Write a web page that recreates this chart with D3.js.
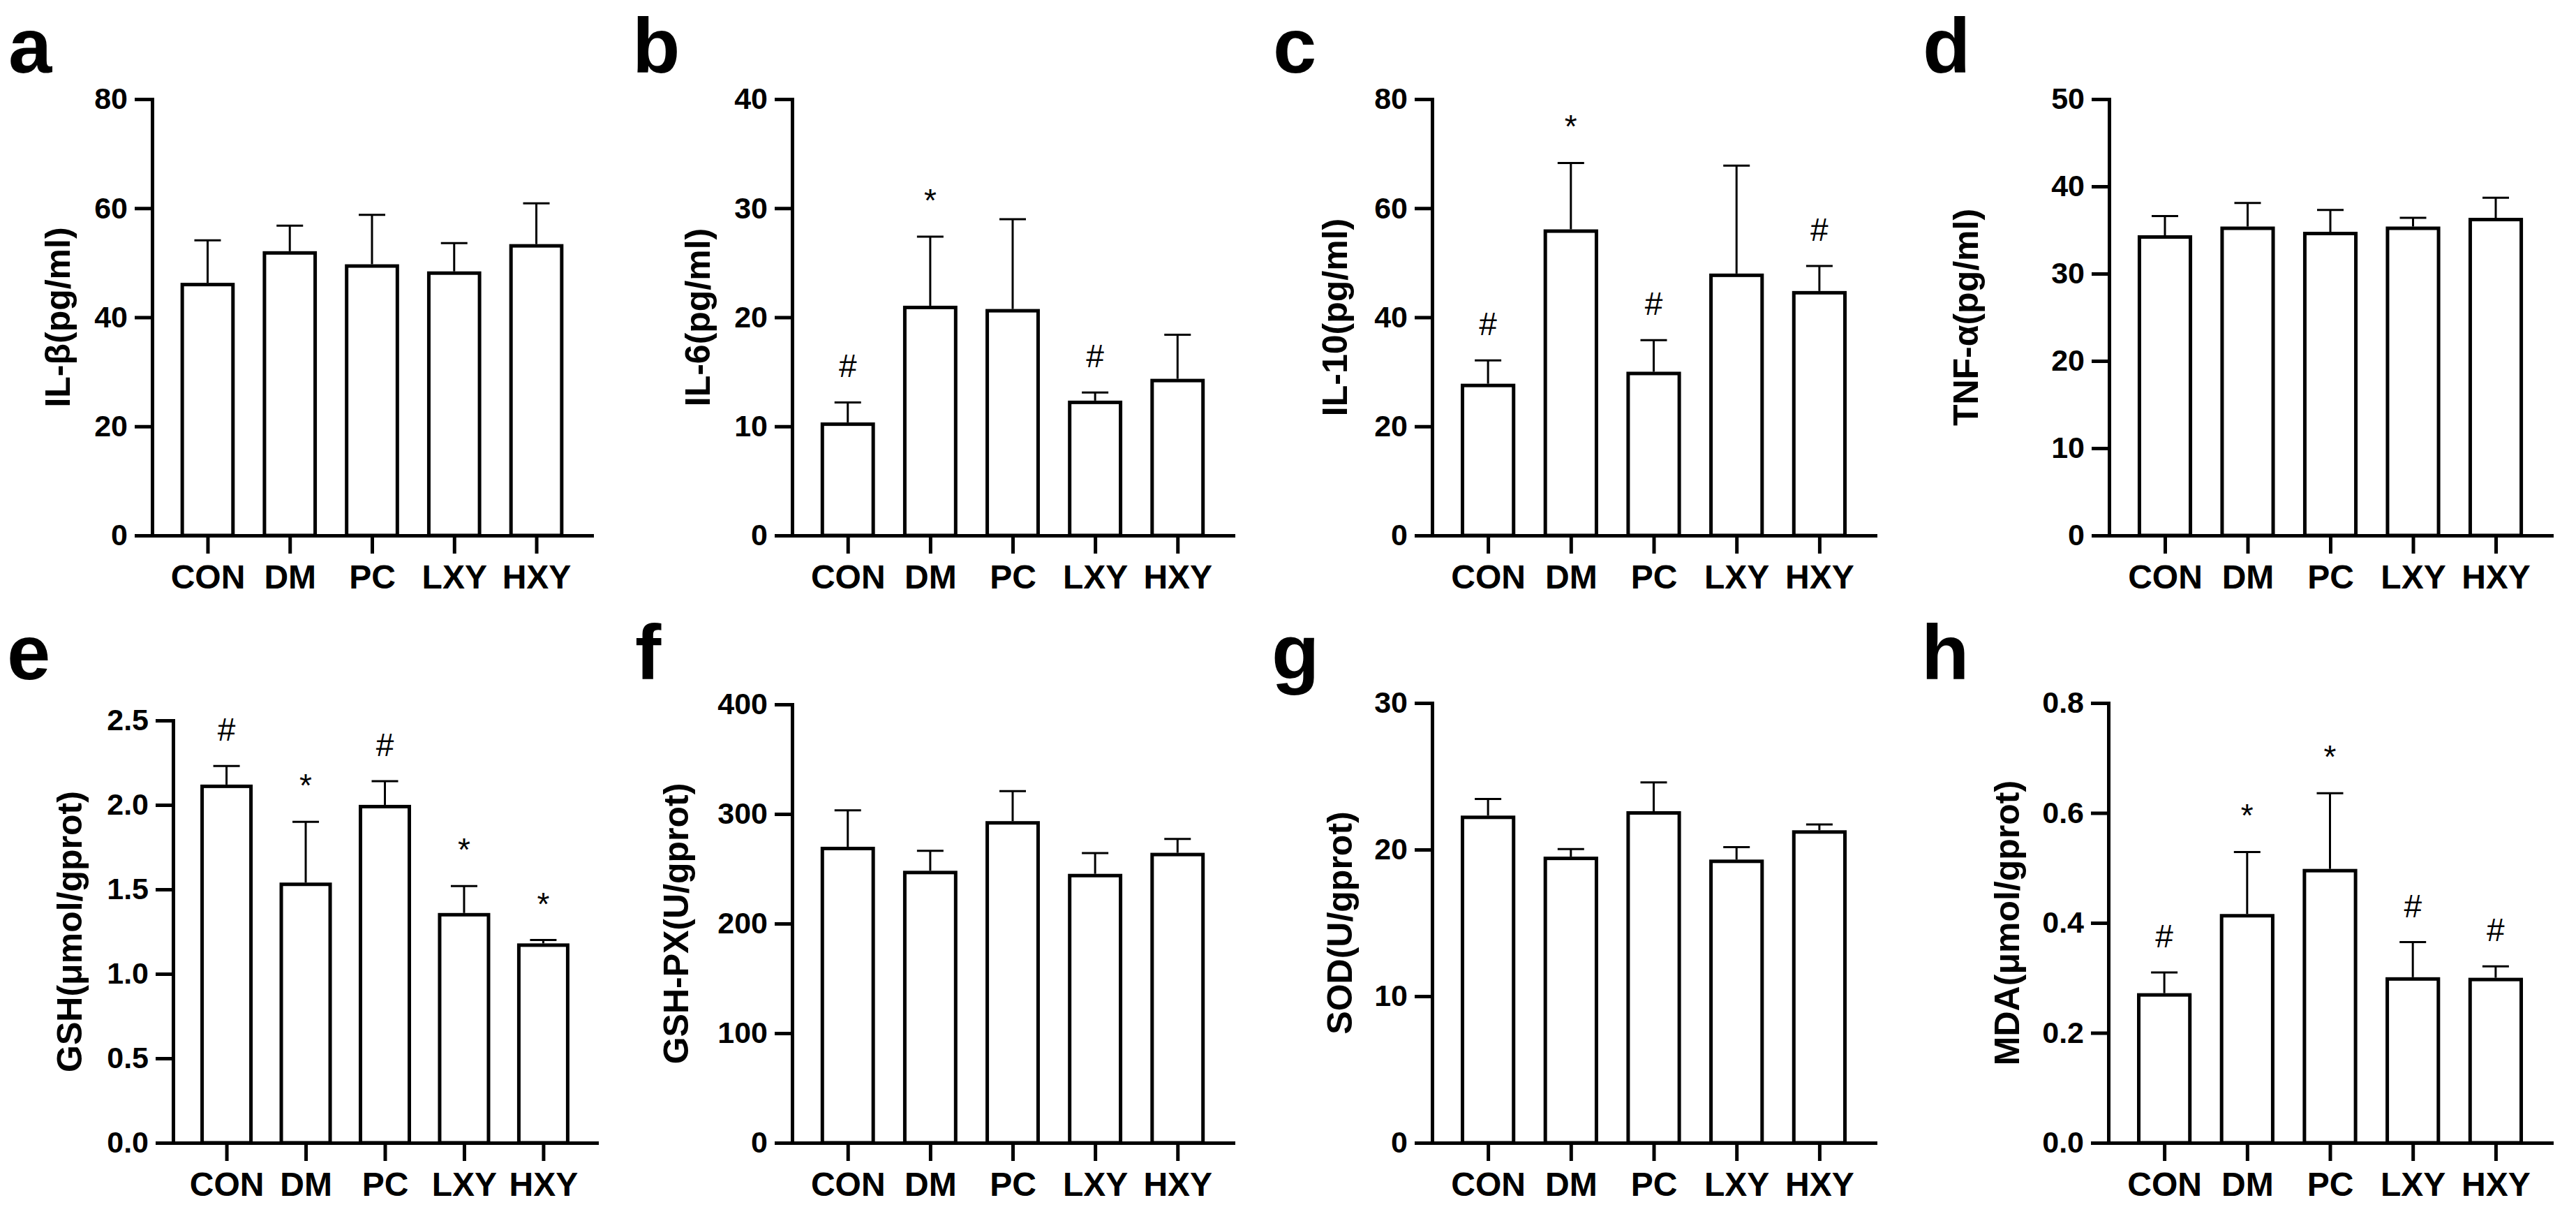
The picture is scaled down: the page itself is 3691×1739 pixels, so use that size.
<!DOCTYPE html>
<html><head><meta charset="utf-8">
<script src="https://cdn.jsdelivr.net/npm/d3@7"></script>
<style>
html,body{margin:0;padding:0;background:#fff;}
svg{display:block;}
text{font-family:"Liberation Sans",Arial,Helvetica,sans-serif;}
</style>
</head><body>
<svg id="chart" width="3691" height="1739"></svg>
<script>
// ---------- data ----------
const categories = ["CON", "DM", "PC", "LXY", "HXY"];
const panelLetters = ["a", "b", "c", "d", "e", "f", "g", "h"];
const yTitles = ["IL-β(pg/ml)", "IL-6(pg/ml)", "IL-10(pg/ml)", "TNF-α(pg/ml)",
                 "GSH(μmol/gprot)", "GSH-PX(U/gprot)", "SOD(U/gprot)", "MDA(μmol/gprot)"];

const ilbMean   = [46.0, 51.8, 49.4, 48.1, 53.1];
const ilbSD     = [8.1, 5.0, 9.4, 5.5, 7.8];
const il6Mean   = [10.2, 20.9, 20.6, 12.2, 14.2];
const il6SD     = [2.0, 6.5, 8.4, 0.9, 4.2];
const il10Mean  = [27.5, 55.8, 29.7, 47.7, 44.5];
const il10SD    = [4.6, 12.5, 6.1, 20.1, 4.9];
const tnfMean   = [34.2, 35.2, 34.6, 35.2, 36.2];
const tnfSD     = [2.4, 2.9, 2.7, 1.2, 2.5];
const gshMean   = [2.11, 1.53, 1.99, 1.35, 1.17];
const gshSD     = [0.12, 0.37, 0.15, 0.17, 0.03];
const gshpxMean = [268.5, 246.6, 291.9, 243.8, 263.0];
const gshpxSD   = [34.9, 19.8, 28.9, 20.5, 14.2];
const sodMean   = [22.2, 19.4, 22.5, 19.2, 21.2];
const sodSD     = [1.25, 0.64, 2.08, 0.97, 0.52];
const mdaMean   = [0.269, 0.413, 0.495, 0.298, 0.297];
const mdaSD     = [0.041, 0.116, 0.141, 0.067, 0.024];

const ilbTicks   = [0, 20, 40, 60, 80];
const il6Ticks   = [0, 10, 20, 30, 40];
const il10Ticks  = [0, 20, 40, 60, 80];
const tnfTicks   = [0, 10, 20, 30, 40, 50];
const gshTicks   = [0, 0.5, 1.0, 1.5, 2.0, 2.5];
const gshpxTicks = [0, 100, 200, 300, 400];
const sodTicks   = [0, 10, 20, 30];
const mdaTicks   = [0, 0.2, 0.4, 0.6, 0.8];

const ilbSig   = ["", "", "", "", ""];
const il6Sig   = ["#", "*", "", "#", ""];
const il10Sig  = ["#", "*", "#", "", "#"];
const tnfSig   = ["", "", "", "", ""];
const gshSig   = ["#", "*", "#", "*", "*"];
const gshpxSig = ["", "", "", "", ""];
const sodSig   = ["", "", "", "", ""];
const mdaSig   = ["#", "*", "*", "#", "#"];

const means = [ilbMean, il6Mean, il10Mean, tnfMean, gshMean, gshpxMean, sodMean, mdaMean];
const sds   = [ilbSD, il6SD, il10SD, tnfSD, gshSD, gshpxSD, sodSD, mdaSD];
const ticks = [ilbTicks, il6Ticks, il10Ticks, tnfTicks, gshTicks, gshpxTicks, sodTicks, mdaTicks];
const sigs  = [ilbSig, il6Sig, il10Sig, tnfSig, gshSig, gshpxSig, sodSig, mdaSig];
const decimals = [false, false, false, false, true, false, false, true];

// ---------- layout (pixels) ----------
const layout = [
  {x0: 218,  x1: 848,  yTop: 142,  yBase: 767,  titleX: 83,   letterX: 12,   letterY: 104},
  {x0: 1135, x1: 1767, yTop: 142,  yBase: 767,  titleX: 1000, letterX: 906,  letterY: 104},
  {x0: 2052, x1: 2687, yTop: 142,  yBase: 767,  titleX: 1913, letterX: 1824, letterY: 104},
  {x0: 3022, x1: 3656, yTop: 142,  yBase: 767,  titleX: 2817, letterX: 2755, letterY: 104},
  {x0: 248,  x1: 855,  yTop: 1032, yBase: 1637, titleX: 100,  letterX: 10,   letterY: 973},
  {x0: 1135, x1: 1767, yTop: 1009, yBase: 1637, titleX: 969,  letterX: 910,  letterY: 973},
  {x0: 2052, x1: 2687, yTop: 1007, yBase: 1637, titleX: 1920, letterX: 1822, letterY: 973},
  {x0: 3021, x1: 3656, yTop: 1007, yBase: 1637, titleX: 2876, letterX: 2753, letterY: 973}
];

const svg = d3.select("#chart");
svg.append("rect").attr("width", 3691).attr("height", 1739).attr("fill", "#fff");

layout.forEach((L, i) => {
  const g = svg.append("g");
  const x = d3.scalePoint().domain(categories).range([L.x0, L.x1]).padding(0.675);
  const step = x.step();
  const bw = step * 0.617;
  const y = d3.scaleLinear().domain([0, d3.max(ticks[i])]).range([L.yBase, L.yTop]);
  const fmt = decimals[i] ? d3.format(".1f") : d3.format("d");

  const rows = categories.map((c, k) => ({c, m: means[i][k], s: sds[i][k], sig: sigs[i][k]}));

  // bars
  g.selectAll("rect.bar").data(rows).join("rect")
    .attr("class", "bar")
    .attr("x", d => x(d.c) - bw / 2)
    .attr("y", d => y(d.m))
    .attr("width", bw)
    .attr("height", d => L.yBase - y(d.m))
    .attr("fill", "#fff").attr("stroke", "#000").attr("stroke-width", 5);

  // error bars (upper)
  g.selectAll("line.err").data(rows).join("line")
    .attr("class", "err")
    .attr("x1", d => x(d.c)).attr("x2", d => x(d.c))
    .attr("y1", d => y(d.m) - 2.5).attr("y2", d => y(d.m + d.s))
    .attr("stroke", "#000").attr("stroke-width", 3);
  g.selectAll("line.cap").data(rows).join("line")
    .attr("class", "cap")
    .attr("x1", d => x(d.c) - 19).attr("x2", d => x(d.c) + 19)
    .attr("y1", d => y(d.m + d.s)).attr("y2", d => y(d.m + d.s))
    .attr("stroke", "#000").attr("stroke-width", 3);

  // significance marks
  g.selectAll("text.sig").data(rows.filter(d => d.sig)).join("text")
    .attr("class", "sig")
    .attr("x", d => x(d.c))
    .attr("y", d => y(d.m + d.s) - 36)
    .attr("text-anchor", "middle")
    .attr("font-size", 46)
    .text(d => d.sig);

  // y axis
  const ya = g.append("g").attr("transform", `translate(${L.x0},0)`)
    .call(d3.axisLeft(y).tickValues(ticks[i]).tickFormat(fmt).tickSize(25).tickSizeOuter(0).tickPadding(10));
  ya.select(".domain").attr("stroke-width", 5).attr("stroke-linecap", "square");
  ya.selectAll(".tick line").attr("stroke-width", 5);
  ya.selectAll(".tick text").attr("font-size", 43).attr("font-weight", "bold")
    .attr("font-family", "'Liberation Sans', Arial, sans-serif").attr("fill", "#000");

  // x axis
  const xa = g.append("g").attr("transform", `translate(0,${L.yBase})`)
    .call(d3.axisBottom(x).tickSize(26).tickSizeOuter(0).tickPadding(16));
  xa.select(".domain").attr("stroke-width", 5).attr("stroke-linecap", "square");
  xa.selectAll(".tick line").attr("stroke-width", 5);
  xa.selectAll(".tick text").attr("font-size", 48).attr("font-weight", "bold")
    .attr("font-family", "'Liberation Sans', Arial, sans-serif").attr("fill", "#000");

  // y title
  const cy = (L.yTop + L.yBase) / 2;
  g.append("text")
    .attr("transform", `translate(${L.titleX},${cy}) rotate(-90)`)
    .attr("text-anchor", "middle")
    .attr("dominant-baseline", "central")
    .attr("font-size", 50).attr("font-weight", "bold")
    .text(yTitles[i]);

  // panel letter
  g.append("text")
    .attr("x", L.letterX).attr("y", L.letterY)
    .attr("font-size", 112).attr("font-weight", "bold")
    .text(panelLetters[i]);
});
</script>
</body></html>
